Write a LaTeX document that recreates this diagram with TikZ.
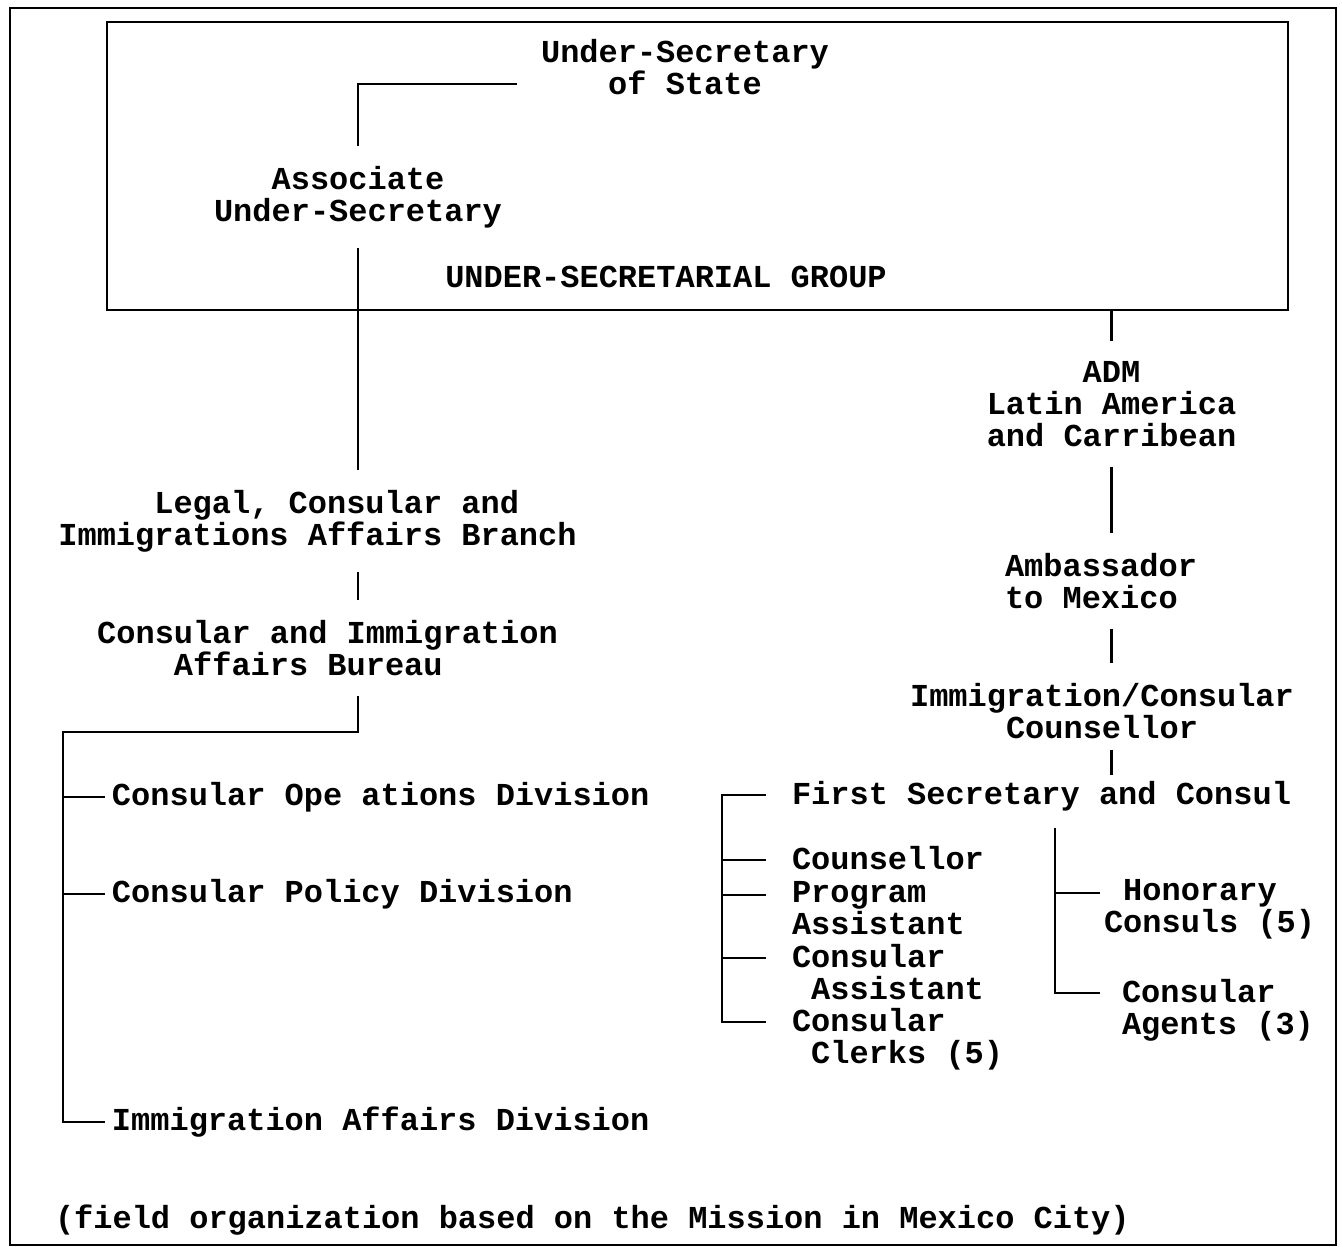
\documentclass[tikz,border=0pt]{standalone}
\usepackage{fontspec}
\setmainfont{Liberation Mono}
\usetikzlibrary{calc}
\setlength{\lineskiplimit}{-5pt}

\tikzset{
    lbl/.style={font=\fontsize{9.1}{9.1}\selectfont\bfseries, inner sep=0pt, outer sep=2mm, align=center},
    litem/.style={lbl, align=left, anchor=west, outer sep=0.7mm},
    ritem/.style={lbl, align=left, anchor=north west, outer xsep=2.6mm, outer ysep=0pt}
}

\begin{document}
\begin{tikzpicture}[line width=0.6pt]
                \useasboundingbox (0,0) rectangle (13.42,-12.47);
                \draw[line width=0.8pt] (0.10,-0.08) rectangle (13.36,-12.45);
                \node[draw, inner sep=0pt, outer sep=0pt, minimum width=11.81cm, minimum height=2.88cm] (grp) at (6.975,-1.66) {};
                \node[lbl] (grplbl) at (6.66,-2.77) {UNDER-SECRETARIAL GROUP};

                \node[lbl] (usos) at (6.85,-0.67) {Under-Secretary\\of State};
                \node[lbl] (assoc) at (3.58,-1.97) {Associate\\Under-Secretary};
                \node[lbl, align=left] (lcib) at (3.175,-5.21) {~~~~~Legal, Consular and\\Immigrations Affairs Branch};
                \node[lbl, align=left] (ciab) at (3.275,-6.48) {Consular and Immigration\\~~~~Affairs Bureau};

                \node[litem] (cod) at (1.05,-7.97) {Consular Ope ations Division};
                \node[litem] (cpd) at (1.05,-8.94) {Consular Policy Division};
                \node[litem] (iad) at (1.05,-11.22) {Immigration Affairs Division};

                \node[lbl] (adm) at (11.115,-4.04) {ADM\\Latin America\\and Carribean};
                \node[lbl, align=left] (amb) at (11.01,-5.81) {Ambassador\\to Mexico};
                \node[lbl] (icc) at (11.02,-7.11) {Immigration/Consular\\Counsellor};

                \node[ritem] (fsc) at (7.66,-7.81) {First Secretary and Consul};
                \node[ritem] (cou) at (7.66,-8.46) {Counsellor};
                \node[ritem] (pra) at (7.66,-8.81) {Program\\Assistant};
                \node[ritem] (cas) at (7.66,-9.44) {Consular\\~Assistant};
                \node[ritem] (ccl) at (7.66,-10.08) {Consular\\~Clerks (5)};
                \node[ritem, outer xsep=0.4mm] (hon) at (11.00,-8.79) {~Honorary\\Consuls (5)};
                \node[ritem, outer xsep=2.2mm] (caag) at (11.00,-9.79) {Consular\\Agents (3)};

                \node[lbl, anchor=west, outer sep=0pt] (foot) at (0.55,-12.20) {(field organization based on the Mission in Mexico City)};

                \coordinate (ustail) at (5.17,-0.84);
                \coordinate (spine) at (0.63,-7.32);
                \coordinate (sub) at (10.55,-8.28);

                \draw (ustail) -| (assoc.north);
                \draw (assoc.south) -- (assoc.south |- lcib.north);
                \draw (assoc.south |- lcib.south) -- (assoc.south |- ciab.north);
                \draw (assoc.south |- ciab.south) |- (spine) |- (iad.west);
                \foreach \n in {cod,cpd} \draw (spine |- \n.west) -- (\n.west);

                \draw (grp.south -| adm.north) -- (adm.north);
                \draw (adm.south) -- (adm.south |- amb.north);
                \draw (adm.south |- amb.south) -- (adm.south |- icc.north);
                \draw ($(icc.south -| adm.south)+(0,0.09)$) -- ($(fsc.north -| adm.south)+(0,0.06)$);

                \draw ($(fsc.north west)+(0,-0.14)$) -- ++(-0.44,0) |- ($(ccl.north west)+(0,-0.14)$);
                \foreach \n in {cou,pra,cas} \draw ($(\n.north west)+(0,-0.14)$) -- ++(-0.44,0);

                \coordinate (hont) at ($(hon.north west)+(0,-0.14)$);
                \draw (sub) |- ($(caag.north west)+(0,-0.14)$);
                \draw (sub |- hont) -- (hont);
\end{tikzpicture}
\end{document}
